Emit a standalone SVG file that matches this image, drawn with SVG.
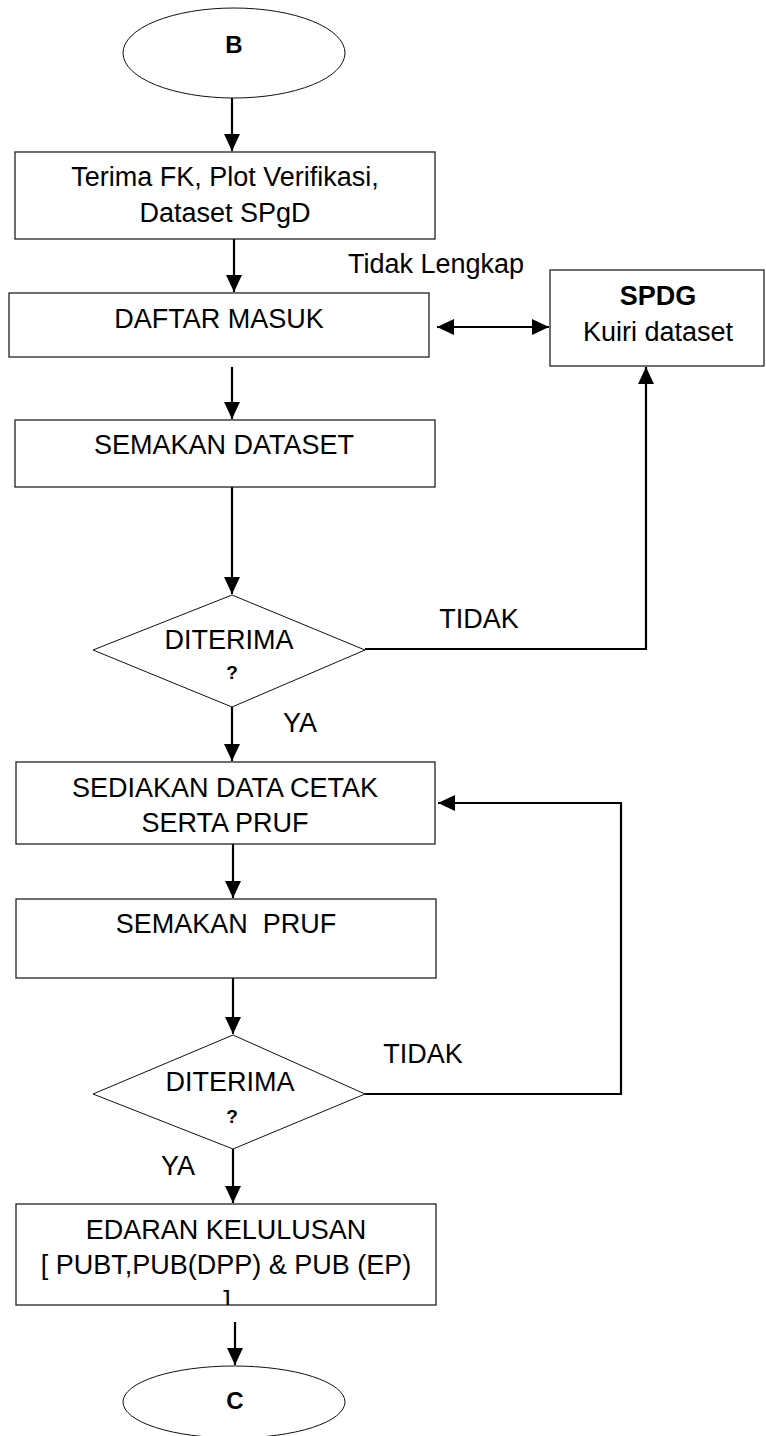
<svg xmlns="http://www.w3.org/2000/svg" width="766" height="1436" viewBox="0 0 766 1436">
<style>
.box{fill:#fff;stroke:#222;stroke-width:1.3}
.dia{fill:#fff;stroke:#111;stroke-width:1}
.t{font-family:"Liberation Sans",Arial,sans-serif;font-size:27px;fill:#000;text-anchor:middle}
.b{font-weight:bold}
.q{font-size:19px;font-weight:bold}
.c{fill:none;stroke:#000;stroke-width:2.2}
</style>
<defs>
<marker id="ah" markerUnits="userSpaceOnUse" markerWidth="18" markerHeight="16" refX="17" refY="8" orient="auto-start-reverse">
<path d="M0,0 L17,8 L0,16 z" fill="#000"/>
</marker>
<clipPath id="clip6"><rect x="16" y="1204" width="420" height="101"/></clipPath>
</defs>
<rect width="766" height="1436" fill="#fff"/>
<g id="connectors">
<path class="c" d="M232,98 L232,151" marker-end="url(#ah)"/>
<path class="c" d="M234,239 L234,292" marker-end="url(#ah)"/>
<path class="c" d="M437,327 L549,327" marker-start="url(#ah)" marker-end="url(#ah)"/>
<path class="c" d="M232,367 L232,419" marker-end="url(#ah)"/>
<path class="c" d="M232,487 L232,594" marker-end="url(#ah)"/>
<path class="c" d="M365,649 L646,649 L646,367" marker-end="url(#ah)"/>
<path class="c" d="M232,707 L232,761" marker-end="url(#ah)"/>
<path class="c" d="M233,844 L233,898" marker-end="url(#ah)"/>
<path class="c" d="M233,978 L233,1034" marker-end="url(#ah)"/>
<path class="c" d="M365,1094 L621,1094 L621,803 L438,803" marker-end="url(#ah)"/>
<path class="c" d="M233,1149 L233,1203" marker-end="url(#ah)"/>
<path class="c" d="M235,1322 L235,1365" marker-end="url(#ah)"/>
</g>
<g id="start-b">
<ellipse class="dia" cx="234" cy="53" rx="111" ry="45"/>
<text class="t b" x="234" y="53" style="font-size:24px">B</text>
</g>
<g id="terima">
<rect class="box" x="15" y="152" width="420" height="87"/>
<text class="t" x="225" y="186">Terima FK, Plot Verifikasi,</text>
<text class="t" x="225" y="222">Dataset SPgD</text>
</g>
<g id="daftar">
<rect class="box" x="9" y="293" width="420" height="64"/>
<text class="t" x="219" y="328">DAFTAR MASUK</text>
</g>
<g id="spdg">
<rect class="box" x="550" y="270" width="214" height="96"/>
<text class="t b" x="658" y="305">SPDG</text>
<text class="t" x="658" y="341">Kuiri dataset</text>
</g>
<g id="label-tidak-lengkap">
<text class="t" x="436" y="273">Tidak Lengkap</text>
</g>
<g id="semakan-dataset">
<rect class="box" x="15" y="420" width="420" height="67"/>
<text class="t" x="224" y="454">SEMAKAN DATASET</text>
</g>
<g id="diterima1">
<polygon class="dia" points="232,595 365,650 232,707 93,650"/>
<text class="t" x="229" y="649">DITERIMA</text>
<text class="t q" x="232" y="679">?</text>
<text class="t" x="479" y="628">TIDAK</text>
<text class="t" x="300" y="732">YA</text>
</g>
<g id="sediakan">
<rect class="box" x="16" y="762" width="419" height="82"/>
<text class="t" x="225" y="797">SEDIAKAN DATA CETAK</text>
<text class="t" x="225" y="832">SERTA PRUF</text>
</g>
<g id="semakan-pruf">
<rect class="box" x="16" y="899" width="420" height="79"/>
<text class="t" x="226" y="933" xml:space="preserve">SEMAKAN  PRUF</text>
</g>
<g id="diterima2">
<polygon class="dia" points="233,1035 365,1094 233,1149 93,1094"/>
<text class="t" x="230" y="1091">DITERIMA</text>
<text class="t q" x="232" y="1123">?</text>
<text class="t" x="423" y="1063">TIDAK</text>
<text class="t" x="178" y="1175">YA</text>
</g>
<g id="edaran">
<rect class="box" x="16" y="1204" width="420" height="101"/>
<text class="t" x="226" y="1239">EDARAN KELULUSAN</text>
<text class="t" x="226" y="1274">[ PUBT,PUB(DPP) &amp; PUB (EP)</text>
<text class="t" x="227" y="1310" clip-path="url(#clip6)">]</text>
</g>
<g id="end-c">
<ellipse class="dia" cx="234" cy="1402" rx="111" ry="36"/>
<text class="t b" x="235" y="1409" style="font-size:24px">C</text>
</g>
</svg>
